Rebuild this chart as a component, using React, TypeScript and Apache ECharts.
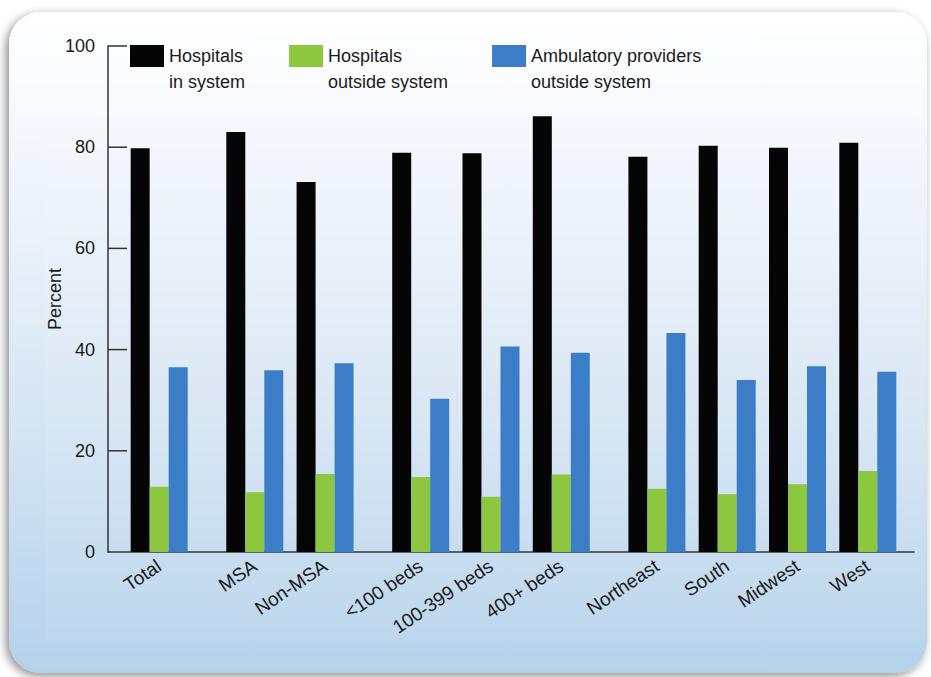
import React, { useEffect, useRef } from "react";
import * as echarts from "echarts";

// ---- Data ----
const groups: string[][] = [
  ["Total"],
  ["MSA", "Non-MSA"],
  ["<100 beds", "100-399 beds", "400+ beds"],
  ["Northeast", "South", "Midwest", "West"],
];
const categories: string[] = groups.flat();

const hospitalsInSystem = [79.8, 83.0, 73.1, 78.9, 78.8, 86.1, 78.1, 80.3, 79.9, 80.9];
const hospitalsOutside = [12.9, 11.8, 15.4, 14.8, 10.9, 15.3, 12.5, 11.4, 13.4, 16.0];
const ambulatoryOutside = [36.5, 35.9, 37.3, 30.3, 40.6, 39.4, 43.3, 34.0, 36.7, 35.6];

const seriesNames = [
  "Hospitals\nin system",
  "Hospitals\noutside system",
  "Ambulatory providers\noutside system",
];
const yTickValues = [20, 40, 60, 80, 100];

// layout of category slots along the x value axis (in category units)
const LEAD = 0.728;
const GROUP_GAP = 0.36;
const X_MIN = 0;
const X_MAX = 11.465;
const TICK_LEN = 19;
const positions: number[] = [];
(() => {
  let p = LEAD;
  groups.forEach((g, gi) => {
    if (gi > 0) p += GROUP_GAP;
    g.forEach(() => {
      positions.push(p);
      p += 1;
    });
  });
})();

const FONT = "'Liberation Sans', Arial, Helvetica, sans-serif";

function backgroundElements(): any[] {
  return [
    {
      id: "panel",
      type: "rect",
      z: -10,
      shape: { x: 9, y: 12, width: 918, height: 661, r: 32 },
      style: {
        fill: new echarts.graphic.LinearGradient(0, 0, 0, 1, [
          { offset: 0, color: "#ffffff" },
          { offset: 0.2, color: "#f3f7fc" },
          { offset: 0.6, color: "#d7e6f4" },
          { offset: 1, color: "#b4d1ea" },
        ]),
        shadowBlur: 10,
        shadowColor: "rgba(0,0,0,0.45)",
        shadowOffsetX: -3,
        shadowOffsetY: 3,
      },
    },
    {
      id: "patch",
      type: "rect",
      z: -9,
      shape: { x: 45, y: 40, width: 880, height: 600 },
      style: { fill: "rgba(255,255,255,0.08)" },
    },
  ];
}

export default function App() {
  const ref = useRef<HTMLDivElement>(null);
  useEffect(() => {
    if (!ref.current) return;
    const chart = echarts.init(ref.current, null, { renderer: "svg" });
    const labelFor = (v: number) => {
      const i = positions.findIndex((p) => Math.abs(p - v) < 1e-6);
      return i >= 0 ? categories[i] : "";
    };
    const mk = (name: string, vals: number[], color: string) => ({
      name,
      type: "bar",
      barWidth: 19,
      barGap: "0%",
      itemStyle: { color },
      data: vals.map((v, i) => [positions[i], v]),
    });
    chart.setOption({
      animation: false,
      backgroundColor: "#ffffff",
      textStyle: { fontFamily: FONT },
      graphic: backgroundElements(),
      legend: {
        left: 130,
        top: 17,
        padding: 0,
        itemWidth: 34,
        itemHeight: 22,
        itemGap: 44,
        icon: "rect",
        selectedMode: false,
        data: seriesNames,
        formatter: (name: string) => "\n" + name,
        textStyle: {
          fontFamily: FONT,
          fontSize: 18,
          lineHeight: 26,
          color: "#1a1a1a",
        },
      },
      grid: {
        left: 108,
        right: 17,
        top: 46,
        bottom: 125,
        containLabel: false,
        outerBoundsMode: "none",
      },
      xAxis: {
        type: "value",
        min: X_MIN,
        max: X_MAX,
        splitLine: { show: false },
        axisTick: { show: false },
        axisLine: { show: true, onZero: false, lineStyle: { color: "#333", width: 1.5 } },
        axisLabel: {
          customValues: positions,
          formatter: labelFor,
          rotate: 34,
          margin: 12,
          fontSize: 19,
          fontFamily: FONT,
          color: "#1a1a1a",
        },
      },
      yAxis: {
        type: "value",
        min: 0,
        max: 100,
        interval: 20,
        name: "Percent",
        nameLocation: "middle",
        nameRotate: 90,
        nameGap: 44,
        nameMoveOverlap: false,
        nameTextStyle: { fontSize: 18, fontFamily: FONT, color: "#1a1a1a" },
        splitLine: { show: false },
        axisLine: { show: true, onZero: false, lineStyle: { color: "#333", width: 1.5 } },
        axisTick: { show: false },
        axisLabel: {
          margin: 13,
          fontSize: 18,
          fontFamily: FONT,
          color: "#1a1a1a",
        },
      },
      series: [
        mk(seriesNames[0], hospitalsInSystem, "#050505"),
        mk(seriesNames[1], hospitalsOutside, "#8dc63f"),
        mk(seriesNames[2], ambulatoryOutside, "#3b7dc6"),
      ],
    });
    // inward y-axis ticks, positioned through the axis scales
    const x0 = chart.convertToPixel({ xAxisIndex: 0 }, X_MIN) as number;
    const tickEls = yTickValues.map((v, i) => {
      const y = chart.convertToPixel({ yAxisIndex: 0 }, v) as number;
      return {
        id: "ytick" + i,
        type: "line",
        z: 100,
        silent: true,
        shape: { x1: x0, y1: y, x2: x0 + TICK_LEN, y2: y },
        style: { stroke: "#333", lineWidth: 1.5 },
      };
    });
    chart.setOption({ graphic: [...backgroundElements(), ...tickEls] });
    return () => chart.dispose();
  }, []);
  return (
    <div
      ref={ref}
      style={{ position: "fixed", left: 0, top: 0, width: 931, height: 677 }}
    />
  );
}
